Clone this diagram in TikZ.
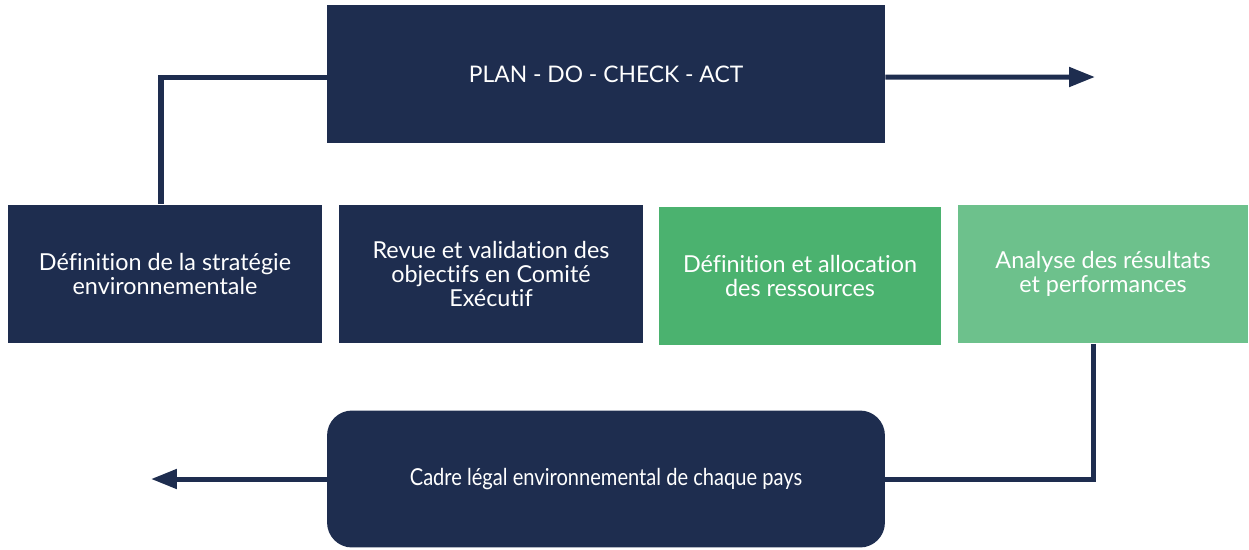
\documentclass[tikz,border=0pt]{standalone}
\usepackage{fontspec}
\setmainfont{Lato}[Ligatures={NoCommon,NoContextual}]
\newfontfamily\narrowfont{Lato}[FakeStretch=0.86,Ligatures={NoCommon,NoContextual}]
\usetikzlibrary{arrows.meta}

\definecolor{navy}{HTML}{1E2D4F}
\definecolor{leafgreen}{HTML}{4BB26F}
\definecolor{palegreen}{HTML}{6DC18C}

\begin{document}
\begin{tikzpicture}[x=0.02cm, y=-0.02cm,
		box/.style = {fill=navy, text=white, align=center, inner sep=0pt,
			minimum height=2.78cm, font=\fontsize{13.3}{13.9}\selectfont},
		link/.style = {draw=navy, line width=2.85pt},
		tip/.style = {-{Triangle[length=0.52cm, width=0.38cm]}}]
			\useasboundingbox (0,0) rectangle (1249,549);
			
			\node[box, minimum width=11.16cm, font=\fontsize{13}{14}\selectfont] (pdca) at (606,74) {PLAN - DO - CHECK - ACT};
			
			\node[box, minimum width=6.28cm] (strat) at (165,274) {Définition de la stratégie\\environnementale};
			\node[box, minimum width=6.08cm] (revue) at (491,274) {Revue et validation des\\objectifs en Comité\\Exécutif};
			\node[box, fill=leafgreen, minimum width=5.64cm] (alloc) at (800,276) {Définition et allocation\\des ressources};
			\node[box, fill=palegreen, minimum width=5.8cm] (perf) at (1103,274) {Analyse des résultats\\et performances};
			
			\node[box, rounded corners=0.5cm, minimum width=11.16cm, minimum height=2.74cm] (cadre) at (606,479) {\narrowfont Cadre légal environnemental de chaque pays};
			
			\coordinate (outr) at (1095,77);
			\coordinate (outl) at (151,479);
			
			\draw[link] ([yshift=-0.06cm]pdca.west) -| ([xshift=-0.08cm]strat.north);
			\draw[link, tip] ([yshift=-0.06cm]pdca.east) -- (outr);
			\draw[link] ([xshift=-0.2cm]perf.south) |- (cadre.east);
			\draw[link, tip] (cadre.west) -- (outl);
			
\end{tikzpicture}
\end{document}
